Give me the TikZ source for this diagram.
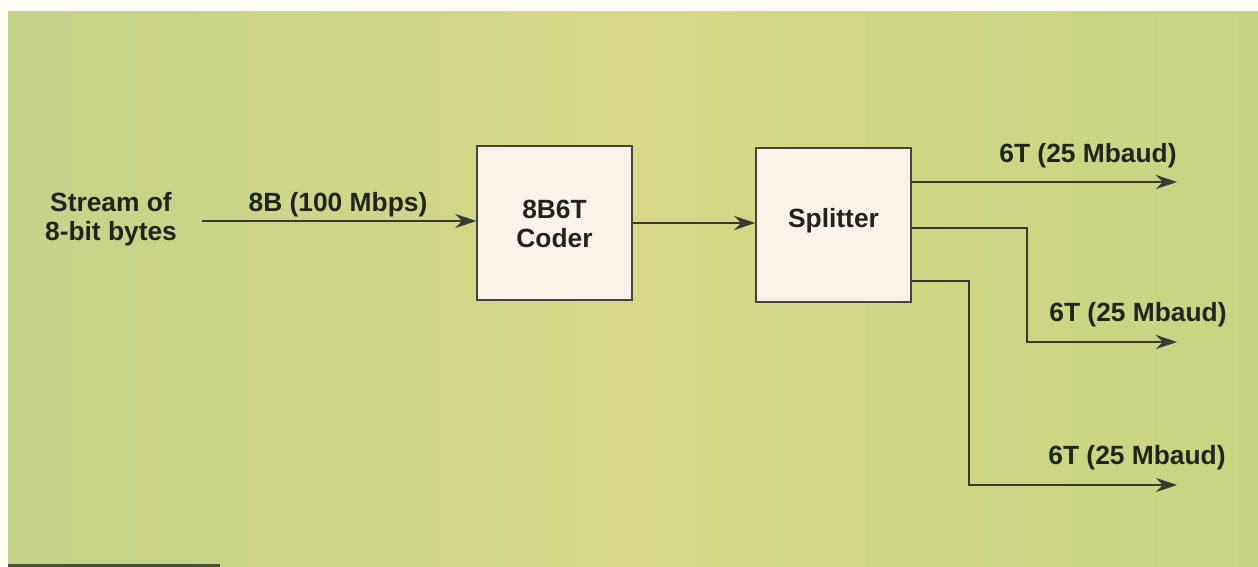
\documentclass[tikz,border=0pt]{standalone}
\usepackage{fontspec}
\setmainfont{Liberation Sans}
\usetikzlibrary{arrows.meta}

\definecolor{panelL}{RGB}{197,211,138}
\definecolor{panelM}{RGB}{214,216,134}
\definecolor{panelR}{RGB}{199,213,130}
\definecolor{boxfill}{RGB}{251,243,233}
\definecolor{ink}{RGB}{32,36,28}

\begin{document}
\begin{tikzpicture}[
	x=0.02cm, y=-0.02cm,
	block/.style={ draw=ink!85, line width=0.8pt, fill=boxfill, minimum width=3.1cm, minimum height=3.08cm, align=center, inner sep=0pt },
	txt/.style={ text=ink, align=center, inner sep=0pt, font=\fontsize{15}{16.5}\selectfont\bfseries },
	arr/.style={ draw=ink!90, line width=0.85pt, -{Stealth[length=12pt,width=8pt]} }
]
\useasboundingbox (0,0) rectangle (1258,567);

% background
\fill[white!96!yellow] (0,0) rectangle (1258,567);
\shade[left color=panelL, right color=panelM] (8,12) rectangle (630,567);
\shade[left color=panelM, right color=panelR] (630,12) rectangle (1258,567);
\fill[ink!75!panelL] (8,564) rectangle (220,567);

\node at (554.5,223) (coder) [block] {};
\node at (554.5,224) (codertxt) [txt] {8B6T\\Coder};
\node at (833.5,225) (split) [block] {};
\node at (833.5,221) (splittxt) [txt] {Splitter};

\node at (111,219) (src) [txt] {Stream of\\8-bit bytes};
\node at (338,205) (inlab) [txt] {8B (100 Mbps)};
\coordinate (in) at (202,221);

\coordinate (o1) at (1177,182);
\coordinate (o2) at (1177,342);
\coordinate (o3) at (1177,485);
\coordinate (bend2) at (1027,342);
\coordinate (bend3) at (969,485);

\node at (1088,156) (lab1) [txt] {6T (25 Mbaud)};
\node at (1138,315) (lab2) [txt] {6T (25 Mbaud)};
\node at (1137,458) (lab3) [txt] {6T (25 Mbaud)};

\draw[arr] (in) -- (in -| coder.west);
\draw[arr] (coder.east) -- (coder.east -| split.west);
\draw[arr] ([yshift=0.86cm]split.east) -- (split.east |- o1) -- (o1);
\draw[arr] ([yshift=-0.06cm]split.east) -| (bend2) -- (o2);
\draw[arr] ([yshift=-1.12cm]split.east) -| (bend3) -- (o3);

\end{tikzpicture}
\end{document}
